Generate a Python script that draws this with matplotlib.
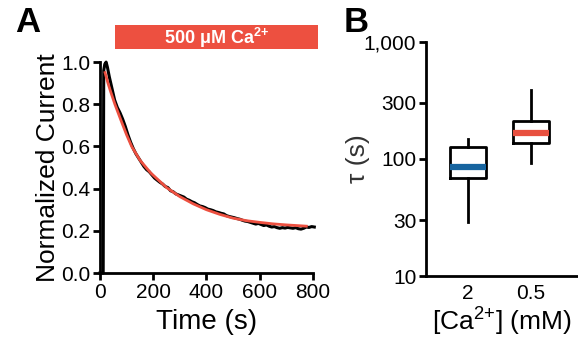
import matplotlib
matplotlib.use("Agg")
from matplotlib import pyplot as plt
from matplotlib.patches import Rectangle
import matplotlib.transforms as mtransforms
import matplotlib.ticker as mticker

plt.rcParams['font.family'] = ['Liberation Sans', 'DejaVu Sans']
plt.rcParams['mathtext.fontset'] = 'custom'
plt.rcParams['mathtext.rm'] = 'Liberation Sans'
plt.rcParams['mathtext.bf'] = 'Liberation Sans:bold'
plt.rcParams['mathtext.default'] = 'rm'

# panel A: normalized current trace (black) and exponential fit (red)
trace_t = [0, 12, 14, 18, 23, 28, 35, 45, 55, 65, 75, 85, 95, 105, 115, 125,
           135, 145, 155, 165, 175, 185, 195, 205, 215, 225, 235, 245, 255,
           265, 275, 285, 295, 305, 315, 325, 335, 345, 355, 365, 375, 385,
           395, 405, 415, 425, 435, 445, 455, 465, 475, 485, 495, 505, 515,
           525, 535, 545, 555, 565, 575, 585, 595, 605, 615, 625, 635, 645,
           655, 665, 675, 685, 695, 705, 715, 725, 735, 745, 755, 765, 775,
           785, 795, 805]
trace_i = [0.0, 0.0, 0.96, 0.99, 1.0, 0.975, 0.93, 0.875, 0.82, 0.785, 0.76,
           0.73, 0.695, 0.655, 0.62, 0.59, 0.565, 0.545, 0.525, 0.505, 0.49,
           0.48, 0.465, 0.45, 0.44, 0.43, 0.422, 0.41, 0.405, 0.39, 0.385,
           0.375, 0.37, 0.365, 0.36, 0.35, 0.345, 0.338, 0.333, 0.325, 0.318,
           0.315, 0.31, 0.303, 0.3, 0.296, 0.29, 0.287, 0.283, 0.28, 0.272,
           0.268, 0.265, 0.262, 0.258, 0.255, 0.25, 0.246, 0.244, 0.24, 0.236,
           0.232, 0.235, 0.23, 0.225, 0.228, 0.222, 0.218, 0.22, 0.215, 0.212,
           0.215, 0.213, 0.216, 0.214, 0.212, 0.215, 0.21, 0.208, 0.212,
           0.218, 0.216, 0.22, 0.218]
fit_t = [19, 30, 40, 56, 80, 100, 119, 150, 190, 250, 300, 350, 400, 450,
         500, 550, 600, 650, 700, 763, 775]
fit_i = [0.95, 0.90, 0.86, 0.80, 0.72, 0.655, 0.60, 0.535, 0.475, 0.405,
         0.362, 0.328, 0.30, 0.278, 0.26, 0.248, 0.24, 0.233, 0.228, 0.223,
         0.222]

# panel B: tau box plots
groups = ['2', '0.5']
tau_whislo = [29, 92]
tau_q1 = [69, 137]
tau_med = [85, 165]
tau_q3 = [127, 211]
tau_whishi = [147, 386]
median_colors = ['#16649f', '#e8503f']

red = '#ed5040'

fig = plt.figure(figsize=(5.78, 3.41), dpi=100)

# ---- panel A
axA = fig.add_axes([0.173, 0.1994, 0.3685, 0.6186])
axA.plot(trace_t, trace_i, color='black', lw=2.2, clip_on=False, zorder=3)
axA.plot(fit_t, fit_i, color=red, lw=2.0, zorder=4)
axA.set_xlim(0, 800)
axA.set_ylim(0, 1.0)
axA.set_xticks([0, 200, 400, 600, 800])
axA.set_yticks([0.0, 0.2, 0.4, 0.6, 0.8, 1.0])
axA.yaxis.set_major_formatter(mticker.FormatStrFormatter('%.1f'))
axA.set_xlabel('Time (s)', fontsize=20, labelpad=5)
axA.set_ylabel('Normalized Current', fontsize=19, labelpad=1)

# solution bar above the trace
trans = mtransforms.blended_transform_factory(axA.transData, axA.transAxes)
axA.add_patch(Rectangle((56, 1.06), 764, 0.115, transform=trans,
                        color=red, clip_on=False, lw=0))
axA.text(438, 1.112, r'500 μM Ca$^{\mathbf{2{+}}}$', transform=trans,
         color='white', fontsize=13, fontweight='bold',
         ha='center', va='center')

# ---- panel B
axB = fig.add_axes([0.737, 0.1906, 0.263, 0.6872])
stats = []
for i in range(len(groups)):
    stats.append(dict(whislo=tau_whislo[i], q1=tau_q1[i], med=tau_med[i],
                      q3=tau_q3[i], whishi=tau_whishi[i], fliers=[]))
bp = axB.bxp(stats, positions=[1, 2], widths=0.58, showcaps=False,
             patch_artist=False,
             boxprops=dict(color='black', lw=2),
             whiskerprops=dict(color='black', lw=2),
             medianprops=dict(lw=4.5))
for line, c in zip(bp['medians'], median_colors):
    line.set_color(c)
axB.set_yscale('log')
axB.set_ylim(10, 1000)
axB.set_xlim(0.333, 2.746)
axB.set_yticks([10, 30, 100, 300, 1000])
axB.set_yticklabels(['10', '30', '100', '300', '1,000'])
axB.yaxis.set_minor_locator(mticker.NullLocator())
axB.set_xticks([1, 2])
axB.set_xticklabels(groups)
axB.set_ylabel('τ (s)', fontsize=19, color='#333333')
axB.yaxis.set_label_coords(-0.37, 0.5)
axB.set_xlabel('[Ca$^{2{+}}$] (mM)', fontsize=19, labelpad=2)

for ax in (axA, axB):
    ax.spines['top'].set_visible(False)
    ax.spines['right'].set_visible(False)
    ax.spines['left'].set_linewidth(2)
    ax.spines['bottom'].set_linewidth(2)
    ax.tick_params(width=2, length=5, labelsize=15, pad=2)
axB.tick_params(axis='x', length=0, pad=6)

fig.text(0.026, 0.905, 'A', fontsize=25, fontweight='bold')
fig.text(0.594, 0.905, 'B', fontsize=25, fontweight='bold')

fig.savefig('out.png', dpi=100)
